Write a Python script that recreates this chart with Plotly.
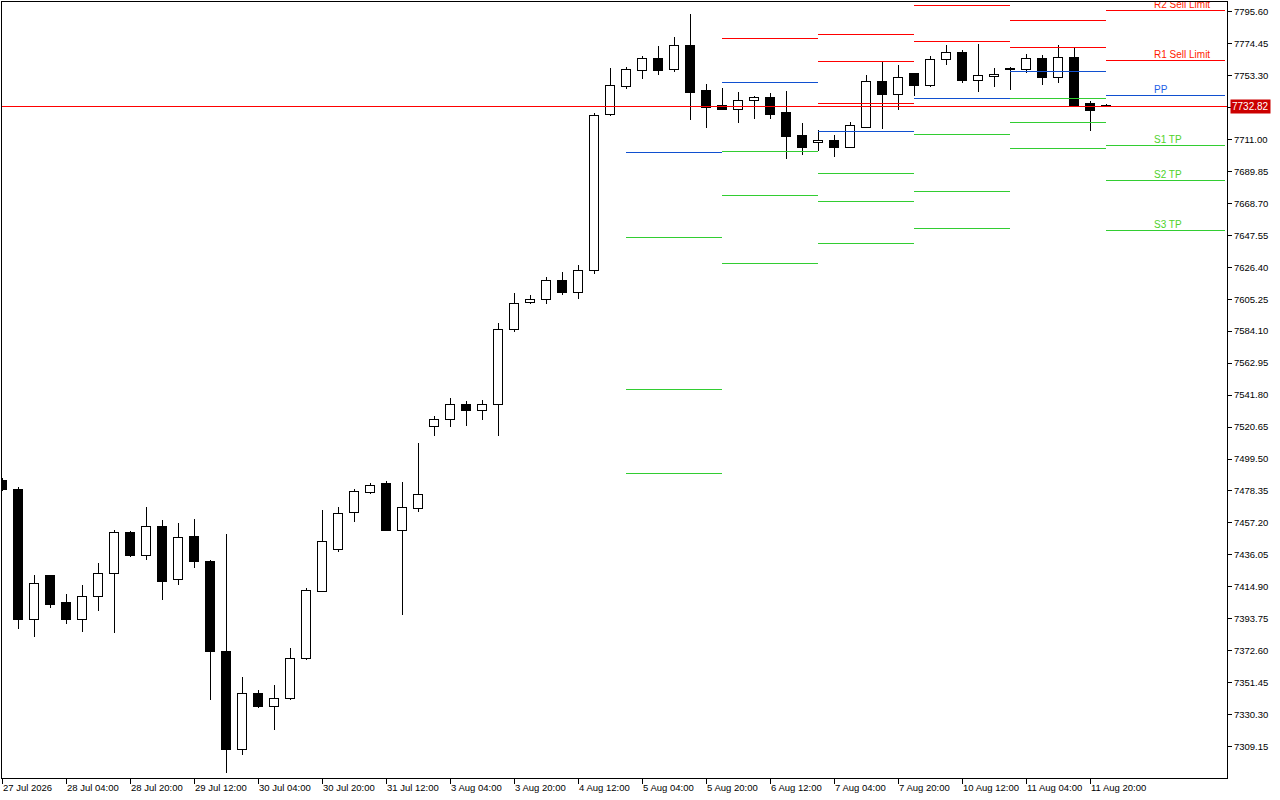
import pandas as pd
import plotly.graph_objects as go

# ---------------- data (H4 bars, 27 Jul 2026 12:00 -> 12 Aug 2026 00:00) ----------------
opens = [7485.62, 7479.67, 7393.65, 7422.11, 7404.90, 7393.65, 7408.87, 7423.43, 7450.56, 7435.34,
         7454.53, 7419.46, 7448.57, 7431.37, 7372.48, 7306.98, 7344.69, 7336.09, 7341.38, 7367.85,
         7412.18, 7439.97, 7464.45, 7477.68, 7482.98, 7452.54, 7466.44, 7521.35, 7525.98, 7535.25,
         7531.28, 7535.25, 7585.53, 7603.39, 7605.38, 7617.95, 7610.01, 7623.91, 7727.78, 7746.31,
         7756.90, 7764.83, 7757.56, 7773.44, 7743.66, 7733.74, 7731.09, 7737.05, 7739.03, 7729.11,
         7713.89, 7709.26, 7710.58, 7705.95, 7719.18, 7749.62, 7741.02, 7754.91, 7746.97, 7764.17,
         7768.80, 7750.28, 7752.93, 7757.56, 7757.56, 7764.83, 7752.26, 7765.50, 7735.06, 7733.60]
highs = [7486.95, 7480.99, 7422.77, 7422.77, 7410.20, 7416.15, 7430.71, 7452.54, 7451.88, 7467.76,
         7459.16, 7457.17, 7459.82, 7432.69, 7449.89, 7355.28, 7346.67, 7350.00, 7374.47, 7414.17,
         7465.77, 7467.76, 7479.67, 7483.64, 7484.96, 7484.30, 7510.10, 7527.97, 7539.88, 7537.89,
         7538.55, 7589.50, 7609.35, 7608.03, 7619.94, 7623.24, 7627.88, 7728.44, 7758.22, 7758.88,
         7766.16, 7772.77, 7778.73, 7793.95, 7747.63, 7744.99, 7742.34, 7739.69, 7741.68, 7743.00,
         7721.83, 7717.20, 7713.89, 7722.49, 7753.59, 7762.85, 7760.20, 7754.91, 7766.16, 7773.44,
         7770.13, 7774.10, 7758.22, 7758.88, 7767.48, 7766.82, 7773.44, 7771.45, 7736.38, 7734.40]
lows = [7478.34, 7387.04, 7381.75, 7400.93, 7390.34, 7385.05, 7398.95, 7384.39, 7434.68, 7432.69,
        7406.23, 7416.15, 7427.40, 7340.06, 7291.76, 7303.67, 7334.77, 7320.21, 7340.06, 7366.53,
        7411.52, 7437.98, 7457.83, 7476.36, 7451.88, 7396.30, 7464.45, 7514.73, 7520.69, 7521.35,
        7525.32, 7514.73, 7583.55, 7602.07, 7602.07, 7608.03, 7605.38, 7621.92, 7726.46, 7744.32,
        7750.94, 7753.59, 7755.57, 7723.81, 7718.52, 7730.43, 7721.83, 7724.47, 7724.47, 7698.01,
        7700.66, 7703.30, 7699.33, 7705.29, 7718.52, 7717.86, 7730.43, 7739.69, 7745.65, 7760.20,
        7748.29, 7742.34, 7745.65, 7743.66, 7754.91, 7746.97, 7748.29, 7732.41, 7716.54, 7732.70]
closes = [7479.67, 7393.65, 7417.47, 7403.58, 7393.65, 7408.87, 7423.43, 7450.56, 7435.34, 7454.53,
          7418.14, 7447.91, 7431.37, 7372.48, 7306.98, 7344.69, 7336.09, 7341.38, 7367.19, 7412.84,
          7445.26, 7463.79, 7478.34, 7482.31, 7452.54, 7467.76, 7476.36, 7525.98, 7535.25, 7531.28,
          7535.91, 7585.53, 7602.73, 7605.38, 7617.95, 7610.01, 7623.91, 7727.12, 7746.97, 7757.56,
          7764.83, 7756.90, 7773.44, 7742.34, 7732.41, 7731.09, 7737.05, 7739.03, 7727.78, 7713.23,
          7705.95, 7710.58, 7705.95, 7720.50, 7749.62, 7741.02, 7752.26, 7746.97, 7764.17, 7768.80,
          7750.28, 7753.59, 7754.25, 7757.90, 7764.83, 7752.26, 7765.50, 7733.74, 7730.43, 7732.82]

current_price = 7732.82

x_tick_labels = ["27 Jul 2026", "28 Jul 04:00", "28 Jul 20:00", "29 Jul 12:00", "30 Jul 04:00",
                 "30 Jul 20:00", "31 Jul 12:00", "3 Aug 04:00", "3 Aug 20:00", "4 Aug 12:00",
                 "5 Aug 04:00", "5 Aug 20:00", "6 Aug 12:00", "7 Aug 04:00", "7 Aug 20:00",
                 "10 Aug 12:00", "11 Aug 04:00", "11 Aug 20:00"]

y_tick_values = [7309.15, 7330.30, 7351.45, 7372.60, 7393.75, 7414.90, 7436.05, 7457.20,
                 7478.35, 7499.50, 7520.65, 7541.80, 7562.95, 7584.10, 7605.25, 7626.40,
                 7647.55, 7668.70, 7689.85, 7711.00, 7732.15, 7753.30, 7774.45, 7795.60]

# daily classic pivot levels
pivot_days = ["2026-08-05", "2026-08-06", "2026-08-07", "2026-08-10", "2026-08-11", "2026-08-12"]
pivot_r3 = [None, None, 7780.71, None, None, None]
pivot_r2 = [None, None, 7762.85, 7799.90, 7789.98, 7796.59]
pivot_r1 = [None, 7778.07, 7735.06, 7776.08, 7772.11, 7763.51]
pivot_pp = [7702.64, 7748.96, 7716.54, 7738.37, 7756.23, 7740.02]
pivot_s1 = [7646.40, 7703.30, 7688.75, 7714.55, 7738.37, 7707.27]
pivot_s2 = [7545.83, 7674.19, 7670.22, 7676.18, 7722.49, 7684.11]
pivot_s3 = [7490.25, 7629.20, 7642.43, 7652.36, 7705.29, 7651.03]

level_labels = ["R2 Sell Limit", "R1 Sell Limit", "PP", "S1 TP", "S2 TP", "S3 TP"]

# ---------------- styling ----------------
FONT = "Liberation Sans"
FS = 9.5
RED = "#ff0000"
BLUE = "#1050d0"
GREEN = "#32cd32"
X_MAX = 76.5625
LAST_SEG_END = 76.45
LABEL_X = 72.0

times = pd.date_range("2026-07-27 12:00", "2026-08-12 00:00", freq="4h")
times = times[times.dayofweek < 5]
n = len(times)
idx = list(range(n))

fig = go.Figure()

# wicks (drawn as segments outside the body)
wx, wy = [], []
for i in idx:
    top = max(opens[i], closes[i])
    bot = min(opens[i], closes[i])
    wx += [i, i, None, i, i, None]
    wy += [highs[i], top, None, bot, lows[i], None]
fig.add_trace(go.Scatter(x=wx, y=wy, mode="lines", line=dict(color="black", width=1),
                         hoverinfo="skip"))

# bodies
for bull in (True, False):
    xs, base, hgt = [], [], []
    for i in idx:
        if (closes[i] >= opens[i]) == bull:
            xs.append(i)
            base.append(min(opens[i], closes[i]))
            hgt.append(abs(closes[i] - opens[i]))
    fig.add_trace(go.Bar(x=xs, y=hgt, base=base, width=0.62,
                         marker=dict(color="white" if bull else "black",
                                     line=dict(color="black", width=1)),
                         hoverinfo="skip"))

# pivot segments
day_starts = {}
for i, t in enumerate(times):
    d = t.strftime("%Y-%m-%d")
    if d not in day_starts:
        day_starts[d] = i
seg_start = [day_starts[d] for d in pivot_days]
seg_end = seg_start[1:] + [LAST_SEG_END]

def seg_trace(levels_list, color):
    xs, ys = [], []
    for levels in levels_list:
        for k, v in enumerate(levels):
            if v is None:
                continue
            xs += [seg_start[k], seg_end[k], None]
            ys += [v, v, None]
    return go.Scatter(x=xs, y=ys, mode="lines", line=dict(color=color, width=1), hoverinfo="skip")

fig.add_trace(seg_trace([pivot_r3, pivot_r2, pivot_r1], RED))
fig.add_trace(seg_trace([pivot_pp], BLUE))
fig.add_trace(seg_trace([pivot_s1, pivot_s2, pivot_s3], GREEN))

# current price line
fig.add_trace(go.Scatter(x=[0, X_MAX], y=[current_price, current_price], mode="lines",
                         line=dict(color=RED, width=1), hoverinfo="skip"))

# level labels for current day
lab_vals = [pivot_r2[-1], pivot_r1[-1], pivot_pp[-1], pivot_s1[-1], pivot_s2[-1], pivot_s3[-1]]
lab_cols = ["#ff1a00", "#ff1a00", "#1e5ee6", "#50d22a", "#50d22a", "#50d22a"]
fig.add_trace(go.Scatter(x=[LABEL_X] * 6, y=lab_vals, mode="text", text=level_labels,
                         textposition="top right", cliponaxis=True,
                         textfont=dict(family=FONT, size=FS + 0.5, color=lab_cols),
                         hoverinfo="skip"))

tick_idx = list(range(0, n, 4))[:len(x_tick_labels)]

annotations = []
for k, lab in zip(tick_idx, x_tick_labels):
    annotations.append(dict(x=k, y=0, xref="x", yref="paper", text=lab, showarrow=False,
                            xanchor="left", yanchor="top", xshift=-1, yshift=-2,
                            font=dict(family=FONT, size=FS, color="black")))
annotations.append(dict(x=1, y=current_price, xref="paper", yref="y", text=f"{current_price:.2f}",
                        showarrow=False, xanchor="left", yanchor="middle", xshift=3,
                        bgcolor="#cc0000", borderpad=1,
                        font=dict(family=FONT, size=FS + 0.5, color="white")))

fig.update_layout(
    width=1280, height=800,
    margin=dict(l=2, r=53, t=2, b=22),
    paper_bgcolor="white", plot_bgcolor="white",
    showlegend=False, barmode="overlay",
    annotations=annotations,
    xaxis=dict(range=[0, X_MAX], showgrid=False, zeroline=False, showline=True,
               linecolor="black", linewidth=1, mirror=True, ticks="outside",
               tickvals=tick_idx, ticklen=5, tickcolor="black", showticklabels=False,
               automargin=False, fixedrange=True),
    yaxis=dict(range=[7288.45, 7801.89], side="right", showgrid=False, zeroline=False,
               showline=True, linecolor="black", linewidth=1, mirror=True, ticks="outside",
               tickvals=y_tick_values, ticktext=[f"{v:.2f}" for v in y_tick_values],
               ticklen=4, tickcolor="black", automargin=False,
               tickfont=dict(family=FONT, size=FS, color="black")),
)

post = (
    "document.body.style.margin='0';"
    "document.body.style.overflow='hidden';"
    "document.querySelectorAll('.scatterlayer path.js-line, .barlayer path')"
    ".forEach(function(p){p.style.shapeRendering='crispEdges';});"
)
fig.write_html("out.html", post_script=post, config={"displayModeBar": False})
